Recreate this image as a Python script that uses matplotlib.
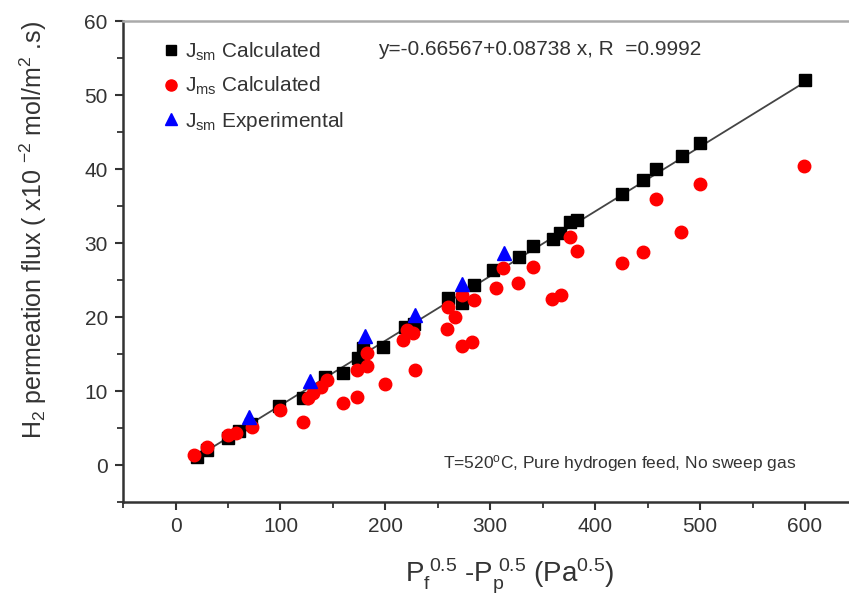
import numpy as np
import matplotlib
matplotlib.use("Agg")
import matplotlib.pyplot as plt
from matplotlib.lines import Line2D

plt.rcParams['font.family'] = ['Liberation Sans', 'DejaVu Sans']
plt.rcParams['mathtext.fontset'] = 'custom'
plt.rcParams['mathtext.rm'] = 'Liberation Sans'
plt.rcParams['mathtext.it'] = 'Liberation Sans'

# J_sm calculated (black squares)
sm_calc_x = [20, 30, 50, 60, 72, 99, 121, 142, 160, 174, 179, 198, 219, 227,
             260, 273, 284, 303, 327, 341, 360, 366, 376, 383, 426, 446, 458,
             483, 500, 600]
sm_calc_y = [1.1, 2.0, 3.7, 4.6, 5.6, 8.0, 9.1, 11.9, 12.4, 14.5, 15.8, 16.0,
             18.6, 19.0, 22.6, 21.9, 24.3, 26.4, 28.1, 29.6, 30.5, 31.4, 32.8,
             33.1, 36.6, 38.5, 40.0, 41.8, 43.5, 52.1]

# J_ms calculated (red circles)
ms_calc_x = [18, 30, 50, 58, 73, 100, 121, 126, 131, 139, 144, 160, 173, 173,
             182, 182, 200, 217, 221, 226, 228, 259, 260, 266, 273, 273, 283,
             284, 305, 312, 326, 341, 359, 367, 376, 383, 426, 446, 458, 482,
             500, 599]
ms_calc_y = [1.4, 2.4, 4.1, 4.4, 5.1, 7.4, 5.8, 9.0, 9.7, 10.5, 11.5, 8.4, 9.2,
             12.9, 13.4, 15.1, 11.0, 16.9, 18.2, 17.8, 12.8, 18.4, 21.3, 20.0,
             16.1, 23.0, 16.6, 22.3, 23.9, 26.6, 24.6, 26.7, 22.5, 23.0, 30.8,
             28.9, 27.3, 28.8, 36.0, 31.5, 38.0, 40.4]

# J_sm experimental (blue triangles)
sm_exp_x = [70, 128, 181, 228, 273, 313]
sm_exp_y = [6.5, 11.3, 17.5, 20.3, 24.5, 28.7]

# linear fit from the legend
fit_a = -0.66567
fit_b = 0.08738
fit_range = [18, 600]

fig = plt.figure(figsize=(8.49, 6.02), dpi=100)
ax = fig.add_axes([0.145, 0.166, 0.865, 0.799])

fx = np.array(fit_range)
ax.plot(fx, fit_a + fit_b * fx, color='#444444', lw=1.3, zorder=2)
ax.plot(sm_calc_x, sm_calc_y, 's', color='black', ms=8, zorder=3)
ax.plot(ms_calc_x, ms_calc_y, 'o', color='#ff0000', ms=9, zorder=4)
ax.plot(sm_exp_x, sm_exp_y, '^', color='#0000ff', ms=9.5, zorder=5)

ax.set_xlim(-50, 650)
ax.set_ylim(-5, 60)
ax.set_xticks(np.arange(0, 601, 100))
ax.set_xticks(np.arange(-50, 651, 50), minor=True)
ax.set_yticks(np.arange(0, 61, 10))
ax.set_yticks(np.arange(-5, 61, 5), minor=True)

ax.tick_params(which='major', direction='out', length=6, width=1.5,
               labelsize=15, labelcolor='#333333', color='#333333', pad=5)
ax.tick_params(which='minor', direction='out', length=4, width=1.3,
               color='#333333')
for s in ['left', 'bottom', 'top']:
    ax.spines[s].set_linewidth(1.8)
    ax.spines[s].set_color('#333333')
ax.spines['top'].set_color('#aaaaaa')
ax.spines['right'].set_visible(False)

ax.set_xlabel(r'P$_f^{\ 0.5}$ -P$_p^{\ 0.5}$ (Pa$^{0.5}$)', fontsize=20,
              color='#333333')
ax.xaxis.set_label_coords(0.526, -0.115)
ax.set_ylabel(r'H$_2$ permeation flux ( x10 $^{-2}$ mol/m$^2$ .s)', fontsize=18,
              color='#333333')
ax.yaxis.set_label_coords(-0.101, 0.565)

handles = [
    Line2D([], [], marker='s', color='black', ls='none', ms=7),
    Line2D([], [], marker='o', color='#ff0000', ls='none', ms=8),
    Line2D([], [], marker='^', color='#0000ff', ls='none', ms=8),
]
labels = [r'J$_{\rm sm}$ Calculated', r'J$_{\rm ms}$ Calculated',
          r'J$_{\rm sm}$ Experimental']
ax.legend(handles, labels, loc='upper left', bbox_to_anchor=(0.037, 0.985),
          frameon=False, fontsize=15, handlelength=0.8, handletextpad=0.26,
          labelspacing=0.58, labelcolor='#333333', borderaxespad=0.2)

ax.text(0.347, 0.94, 'y=-0.66567+0.08738 x, R  =0.9992', transform=ax.transAxes,
        fontsize=15, color='#333333', va='center')
ax.text(0.435, 0.08, 'T=520$^{\\rm o}$C, Pure hydrogen feed, No sweep gas',
        transform=ax.transAxes, fontsize=12.5, color='#333333', va='center')

fig.savefig('out.png', dpi=100)
